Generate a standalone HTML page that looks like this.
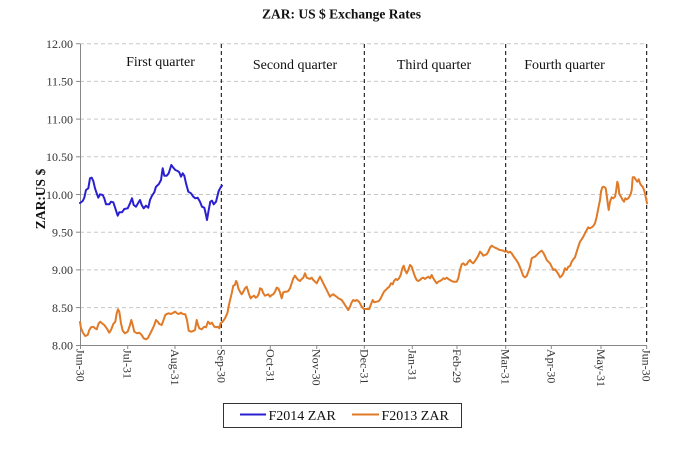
<!DOCTYPE html>
<html>
<head>
<meta charset="utf-8">
<style>
html,body{margin:0;padding:0;background:#fff;}
svg{display:block;}
text{font-family:"Liberation Serif","DejaVu Serif",serif;}
</style>
</head>
<body>
<svg width="683" height="462" viewBox="0 0 683 462" xmlns="http://www.w3.org/2000/svg">
<rect width="683" height="462" fill="#fff"/>
<!-- title -->
<text x="341.5" y="18.5" text-anchor="middle" font-size="13.5" font-weight="bold" fill="#111">ZAR: US $ Exchange Rates</text>

<!-- gridlines -->
<g stroke="#c8c8c8" stroke-width="1" stroke-dasharray="4,3">
<line x1="80" y1="43.7" x2="647" y2="43.7"/>
<line x1="80" y1="81.4" x2="647" y2="81.4"/>
<line x1="80" y1="119.1" x2="647" y2="119.1"/>
<line x1="80" y1="156.8" x2="647" y2="156.8"/>
<line x1="80" y1="194.5" x2="647" y2="194.5"/>
<line x1="80" y1="232.2" x2="647" y2="232.2"/>
<line x1="80" y1="269.9" x2="647" y2="269.9"/>
<line x1="80" y1="307.6" x2="647" y2="307.6"/>
</g>

<!-- axes -->
<g stroke="#888" stroke-width="1">
<line x1="80.5" y1="43.7" x2="80.5" y2="345.5"/>
<line x1="80" y1="345.5" x2="647" y2="345.5"/>
<line x1="76" y1="43.7" x2="80" y2="43.7"/>
<line x1="76" y1="81.4" x2="80" y2="81.4"/>
<line x1="76" y1="119.1" x2="80" y2="119.1"/>
<line x1="76" y1="156.8" x2="80" y2="156.8"/>
<line x1="76" y1="194.5" x2="80" y2="194.5"/>
<line x1="76" y1="232.2" x2="80" y2="232.2"/>
<line x1="76" y1="269.9" x2="80" y2="269.9"/>
<line x1="76" y1="307.6" x2="80" y2="307.6"/>
<line x1="76" y1="345.5" x2="80" y2="345.5"/>
<line x1="80.5" y1="345.5" x2="80.5" y2="349"/>
<line x1="127.7" y1="345.5" x2="127.7" y2="349"/>
<line x1="175" y1="345.5" x2="175" y2="349"/>
<line x1="221.3" y1="345.5" x2="221.3" y2="349"/>
<line x1="270.3" y1="345.5" x2="270.3" y2="349"/>
<line x1="316.7" y1="345.5" x2="316.7" y2="349"/>
<line x1="364.3" y1="345.5" x2="364.3" y2="349"/>
<line x1="412.3" y1="345.5" x2="412.3" y2="349"/>
<line x1="457" y1="345.5" x2="457" y2="349"/>
<line x1="505.7" y1="345.5" x2="505.7" y2="349"/>
<line x1="551.3" y1="345.5" x2="551.3" y2="349"/>
<line x1="601" y1="345.5" x2="601" y2="349"/>
<line x1="646.7" y1="345.5" x2="646.7" y2="349"/>
</g>

<!-- y tick labels -->
<g font-size="12" fill="#333" text-anchor="end">
<text x="73" y="48">12.00</text>
<text x="73" y="85.7">11.50</text>
<text x="73" y="123.4">11.00</text>
<text x="73" y="161.1">10.50</text>
<text x="73" y="198.8">10.00</text>
<text x="73" y="236.5">9.50</text>
<text x="73" y="274.2">9.00</text>
<text x="73" y="311.9">8.50</text>
<text x="73" y="349.6">8.00</text>
</g>

<!-- y axis title -->
<text transform="translate(45,199) rotate(-90)" text-anchor="middle" font-size="13.5" font-weight="bold" fill="#111">ZAR:US $</text>

<!-- x tick labels -->
<g font-size="12" fill="#333">
<text transform="translate(76.5,349) rotate(90)">Jun-30</text>
<text transform="translate(123.7,349) rotate(90)">Jul-31</text>
<text transform="translate(171,349) rotate(90)">Aug-31</text>
<text transform="translate(217.3,349) rotate(90)">Sep-30</text>
<text transform="translate(266.3,349) rotate(90)">Oct-31</text>
<text transform="translate(312.7,349) rotate(90)">Nov-30</text>
<text transform="translate(360.3,349) rotate(90)">Dec-31</text>
<text transform="translate(408.3,349) rotate(90)">Jan-31</text>
<text transform="translate(453,349) rotate(90)">Feb-29</text>
<text transform="translate(501.7,349) rotate(90)">Mar-31</text>
<text transform="translate(547.3,349) rotate(90)">Apr-30</text>
<text transform="translate(597,349) rotate(90)">May-31</text>
<text transform="translate(642.7,349) rotate(90)">Jun-30</text>
</g>

<!-- quarter separators -->
<g stroke="#000" stroke-width="1" stroke-dasharray="4,3">
<line x1="221.3" y1="44" x2="221.3" y2="345"/>
<line x1="364.3" y1="44" x2="364.3" y2="345"/>
<line x1="505.7" y1="44" x2="505.7" y2="345"/>
<line x1="646.7" y1="44" x2="646.7" y2="345"/>
</g>

<!-- quarter labels -->
<g font-size="14" fill="#111" text-anchor="middle">
<text x="160.5" y="66">First quarter</text>
<text x="295" y="69">Second quarter</text>
<text x="434" y="69">Third quarter</text>
<text x="564.5" y="69">Fourth quarter</text>
</g>

<!-- F2013 ZAR (orange) -->
<polyline fill="none" stroke="#e07a26" stroke-width="2" stroke-linejoin="round" stroke-linecap="round" points="
80,322 81,328.3 83.3,333.3 85.3,336 87.7,335 89.3,330 91,327.3 93.3,326.7 95,328.3 96.7,329.3 98.7,323.3 100.3,321.7 102,323.3 104.3,325 106.7,328.3 109.3,332.7 111,330 113.3,324 115.3,321.7 116.7,313.3 118,309.3 119.3,311.7 121,323.3 122.7,330.7 125,333.3 127.7,331.7 130,325 131.3,320 132.7,325 134.3,331.7 137,333.3 139.3,332.7 141.7,335 143.7,338.3 146,339.3 147.7,338.3 150,334 152,330 154.3,325 156,320 157.7,321.7 159.3,324 161.7,325 163.3,320.7 165.3,315 166.7,314 168.7,313.3 171,314 173.3,312.7 175.3,311.7 177,313.3 178.7,314 181,312.7 182.7,314 185.3,314.3 187,320 188.7,330.7 191,331.7 193.3,331 195,330 196.7,320 198,325 199.3,328.3 201.7,329.3 204.3,326.7 206,327.3 208,321.7 210,324 212,322.7 214.3,326.7 216,327.3 217.7,326.7 219.3,328.3
220.5,323.3 222.7,321.7 225,318.3 227.3,313.3 229.3,303.3 231.7,293.3 233.3,285.7 235,285 236,281 237.3,283.3 238.3,288.3 240,291.7 241.7,294.3 243.3,291.7 245,288.3 246.7,286.7 247.7,290 249.3,295 250.7,298.3 252.3,296.7 254,295.7 255.7,297.7 257.3,296.7 259,293.3 260,288.3 261.7,289 263.3,293.3 265,295.7 266.7,295 268.3,294.3 270,296.7 271.7,295 273.3,294.3 275,291.7 276.7,287.7 278.3,288.3 280,292.3 281.7,298.3 283.3,292.3 285,291.7 286.7,291.7 288.3,291 290,288.3 291.7,283.3 293.3,278.3 295,275.7 296.7,278.3 298.3,280 300,281 301.7,279 303.3,277.7 305,273.3 306.7,277.7 308.3,278.3 310,279 311.7,277.7 313.3,280 315,281.7 316.7,283.3 318.3,280 320,276.7 321.7,280 323.3,283.3 325,286.7 326.7,290 328.3,293.3 330,296.7 331.7,295 333.3,294.3 335,295.7 336.7,296.7 338.3,298.3 340,299 341.7,300 343.3,302.3 345,305 346.7,307.7 348.3,310 350,306.7 351.7,302.3 353.3,300 355,301 356.7,300 358.3,301 360,303.3 361.7,306.7 364,309 366.7,309 369.3,309 370.7,305 372.7,300 374.3,302.3 376.7,301.7 379,301 380.7,298.3 382.3,295 384,291.7 385.7,290 387.3,288.3 389.3,286.7 391,283.3 392.7,284.3 394,281 395.7,279 397.3,280 399,278.3 400.7,275 402.3,268.3 403.7,265.7 405,270 406.7,273.3 408.3,270 410,265 411.7,266.7 413.3,271.7 415,276.7 416.7,280 418.3,281 420,280 421.7,278.3 423.3,277.7 425,279 426.7,277.7 428.3,276.7 430,278.3 431.7,275 433.3,278.3 435,281 436.7,283.3 438.3,281.7 440,281 441.7,280 443.3,278.3 445,279 446.7,277.7 448.3,279 450,280 451.7,281 453.3,281.7 455,281.7 456.7,281.7 458.3,278.3 460,270 461.7,264.3 463.3,263.3 465,265 466.7,264.3 468.3,261.7 470,260 471.7,262.3 473.3,263.3 475,261 476.7,258.3 478.3,255.7 480,251.7 481.7,253.3 483.3,255.7 485,255 486.7,254.3 488.3,251.7 490,247.7 491.7,245.7 493.3,246.7 495,247.7 496.7,248.3 498.3,249.3 500,250 501.7,250.3 503.3,250.7 505,251.7 506.7,251 508.3,252.7 510,251.7 511.7,253.3 513.3,256 515,258.3 516.7,260.7 518.3,263.3 520,267.3 521.7,271.7 523.3,276 525,277.3 526.7,276 528.3,271.7 530,266.7 531.7,258.3 533.3,257.3 535,256.7 536.7,255 538.3,253.3 540,251.7 541.7,250.7 543.3,252.7 545,256 546.7,260 548.3,261.7 550,263.3 551.7,266.7 553.3,270 555,269.3 556.7,271.7 558.3,274 560,277.3 561.7,276 563.3,273.3 565,268.3 566.7,270 568.3,266.7 570,266 571.7,261.7 573.3,259.3 575,257.3 576.7,251.7 578.3,246.7 580,241.7 581.7,239.3 583.3,236.7 585,233.3 586.7,230 588.3,227.3 590,228.3 591.7,227.3 593.3,226 595,223.3 596.7,216.7 598.3,208.3 600,200 601,191.7 602.3,187.3 604,186.7 605.7,188.3 606.7,195 607.7,203.3 608.7,210 610,201.7 611.7,197.3 613.3,198.3 615,196.7 616,191.7 617.3,181.7 618.3,185 619.3,194 621,196.7 622.7,200 624,201.7 625.3,198.3 626.7,199.3 628.3,198.3 629.3,196.7 630.7,194 631.7,190 632.7,177.3 634.3,177.3 636,180 637.3,181.7 638.7,179.3 640,183.3 641.7,186 642.7,186.7 644,190 645,193.3 646,198.3 647,203.3"/>

<!-- F2014 ZAR (blue) -->
<polyline fill="none" stroke="#2a20d0" stroke-width="2" stroke-linejoin="round" stroke-linecap="round" points="
80,203 82.7,201 84.3,197.7 86,190 88.3,188.3 90,178.3 91.7,177.7 93.3,181 95,188.3 96.7,193.3 98.3,197.7 100,194.3 102.7,195 104.3,198.3 106,204.3 109.3,204.3 111,201.7 113.3,202.3 115.3,208.3 117.7,215.7 119.3,212.3 122,212.3 124.3,209 127.7,208.3 130,203.3 132,198.3 133.7,205 136,206.7 138.3,202.7 140,200 141.7,205 143.7,208.3 146,205.7 148.3,207.7 150,200 152,195.7 154.3,192.3 156,186.7 158.7,184.3 161,180 162.7,168.3 164.3,175.7 166.7,175.7 168.7,173.3 171.3,165 173.3,167.7 175.3,170 177.7,171 179.3,172.3 181,176.7 182.7,173.3 184.3,175.7 186,183.3 188.3,191.7 191,193.3 193.3,196.7 195.3,198.3 197.7,197.7 200,201.7 202,206.7 204.3,207.7 206,215 207,220 208.7,210 210.3,201.7 212,200.7 213.7,204.3 216,201.7 218.7,191 221,186.7 222,185.7"/>

<!-- legend -->
<rect x="223.5" y="403.5" width="238" height="24" fill="#fff" stroke="#333" stroke-width="1"/>
<line x1="240" y1="414.5" x2="266" y2="414.5" stroke="#2a20d0" stroke-width="2"/>
<text x="268.5" y="420" font-size="14" fill="#111">F2014 ZAR</text>
<line x1="352" y1="414.5" x2="379" y2="414.5" stroke="#e07a26" stroke-width="2"/>
<text x="381.5" y="420" font-size="14" fill="#111">F2013 ZAR</text>
</svg>
</body>
</html>
